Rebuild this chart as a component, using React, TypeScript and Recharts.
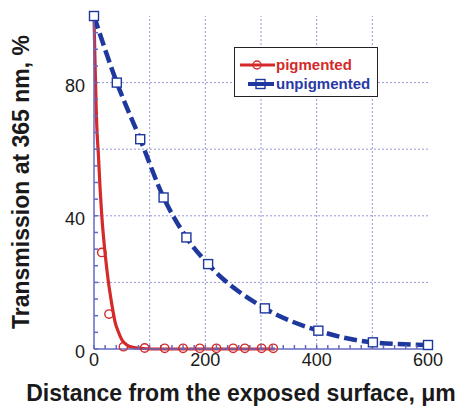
import { ComposedChart, Line, XAxis, YAxis, ReferenceLine } from 'recharts'

// pigmented: measured points (circles) and the fitted curve (solid red)
const pigmentedX = [0, 14, 27, 53, 91, 127, 160, 190, 220, 250, 271, 301, 322]
const pigmentedY = [100, 29, 10.5, 0.7, 0.3, 0.2, 0.2, 0.2, 0.2, 0.2, 0.2, 0.2, 0.2]
const pigmentedFitX = [0, 2, 4, 5, 8, 11, 14, 18, 22, 26, 30, 34, 38, 43, 50, 59, 70, 85, 100, 200, 325]
const pigmentedFitY = [100, 85, 72, 67, 58, 48, 40, 32, 25.5, 20, 15.5, 11.5, 8, 5.5, 2.8, 1.2, 0.5, 0.2, 0, 0, 0]

// unpigmented: squares joined by the dashed blue curve
const unpigmentedX = [0, 41, 83, 125, 166, 205, 307, 403, 501, 600]
const unpigmentedY = [100, 80, 63, 45.5, 33.5, 25.5, 12.2, 5.5, 2, 1.2]

const xGrid = [100, 200, 300, 400, 500]
const yGrid = [20, 40, 60, 80]
const xLabels = [0, 200, 400, 600]
const yLabels = [0, 40, 80]

const xMinor = Array.from({ length: 31 }, (_, i) => i * 20)
const yMinor = Array.from({ length: 21 }, (_, i) => i * 5)

const RED = '#d42a2a'
const BLUE = '#1f389e'
const FRAME = '#6468c0'
const GRID = '#9496d6'
const FONT = '"Liberation Sans", Arial, Helvetica, sans-serif'

const toRows = (xs: number[], ys: number[]) => xs.map((x, i) => ({ x, y: ys[i] }))

const pigmentedRows = toRows(pigmentedX, pigmentedY)
const pigmentedFitRows = toRows(pigmentedFitX, pigmentedFitY)
const unpigmentedRows = toRows(unpigmentedX, unpigmentedY)

const OpenCircle = (props: any) => {
  const { cx, cy } = props
  if (cx == null || cy == null) return null
  return <circle cx={cx} cy={cy} r={4.2} fill="none" stroke={RED} strokeWidth={1.4} />
}

const OpenSquare = (props: any) => {
  const { cx, cy } = props
  if (cx == null || cy == null) return null
  return <rect x={cx - 4.5} y={cy - 4.5} width={9} height={9} fill="white" stroke={BLUE} strokeWidth={1.4} />
}

const XTitle = () => (
  <text x={241} y={401} textAnchor="middle" fontFamily={FONT} fontWeight="bold" fontSize={23} fill="#1a1a1a">
    Distance from the exposed surface, μm
  </text>
)

const YTitle = () => (
  <text
    x={29}
    y={182}
    transform="rotate(-90, 29, 182)"
    textAnchor="middle"
    fontFamily={FONT}
    fontWeight="bold"
    fontSize={23}
    fill="#1a1a1a"
  >
    Transmission at 365 nm, %
  </text>
)

const tickStyle = { fontSize: 18, fill: '#1a1a1a', fontFamily: FONT }
const yTickStyle = { ...tickStyle, dy: 3 }

const LegendBox = () => (
  <div
    style={{
      position: 'absolute',
      left: 234,
      top: 47,
      width: 142,
      height: 48,
      border: '1px solid #222',
      background: 'white',
      fontFamily: FONT,
      fontWeight: 'bold',
      fontSize: 15,
      boxSizing: 'content-box',
    }}
  >
    <div style={{ position: 'absolute', left: 4, top: 7, display: 'flex', alignItems: 'center', height: 19 }}>
      <svg width={37} height={12}>
        <line x1={1} y1={6} x2={36} y2={6} stroke={RED} strokeWidth={3} />
        <circle cx={18} cy={6} r={4} fill="none" stroke={RED} strokeWidth={1.4} />
      </svg>
      <span style={{ color: RED }}>pigmented</span>
    </div>
    <div style={{ position: 'absolute', left: 12, top: 26, display: 'flex', alignItems: 'center', height: 19 }}>
      <svg width={29} height={12}>
        <line x1={1} y1={6} x2={27} y2={6} stroke={BLUE} strokeWidth={4} />
        <rect x={9} y={1.5} width={9} height={9} fill="none" stroke={BLUE} strokeWidth={1.4} />
      </svg>
      <span style={{ color: '#2a3aa5' }}>unpigmented</span>
    </div>
  </div>
)

const App = () => {
  return (
    <div style={{ position: 'absolute', left: 0, top: 0, width: 469, height: 409, background: 'white' }}>
      <ComposedChart width={469} height={409} margin={{ top: 16, right: 41, bottom: 0, left: 0 }}>
        <XAxis
          xAxisId="main"
          dataKey="x"
          type="number"
          domain={[0, 600]}
          ticks={xMinor}
          interval={0}
          tickSize={-4}
          tickMargin={8}
          tickFormatter={(v: number) => (xLabels.includes(v) ? String(v) : '')}
          tick={tickStyle}
          stroke={FRAME}
          strokeWidth={1.5}
          height={60}
          label={<XTitle />}
        />
        <XAxis
          xAxisId="top"
          orientation="top"
          type="number"
          domain={[0, 600]}
          ticks={xMinor}
          interval={0}
          tickSize={-4}
          tickFormatter={() => ''}
          stroke={FRAME}
          strokeWidth={1.5}
          height={0}
        />
        <YAxis
          yAxisId="main"
          dataKey="y"
          type="number"
          domain={[0, 100]}
          ticks={yMinor}
          interval={0}
          tickSize={-4}
          tickMargin={13}
          tickFormatter={(v: number) => (yLabels.includes(v) ? String(v) : '')}
          tick={yTickStyle}
          stroke={FRAME}
          strokeWidth={1.5}
          width={94}
          label={<YTitle />}
        />
        <YAxis
          yAxisId="right"
          orientation="right"
          type="number"
          domain={[0, 100]}
          ticks={yMinor}
          interval={0}
          tickSize={-4}
          tickFormatter={() => ''}
          stroke={FRAME}
          strokeWidth={1.5}
          width={0}
        />
        {xGrid.map((v) => (
          <ReferenceLine key={'gx' + v} xAxisId="main" yAxisId="main" x={v} stroke={GRID} strokeDasharray="2 2" />
        ))}
        {yGrid.map((v) => (
          <ReferenceLine key={'gy' + v} xAxisId="main" yAxisId="main" y={v} stroke={GRID} strokeDasharray="2 2" />
        ))}
        <Line
          xAxisId="main"
          yAxisId="main"
          data={pigmentedFitRows}
          dataKey="y"
          type="monotone"
          stroke={RED}
          strokeWidth={3.2}
          dot={false}
          activeDot={false}
          isAnimationActive={false}
        />
        <Line
          xAxisId="main"
          yAxisId="main"
          data={pigmentedRows}
          dataKey="y"
          stroke="none"
          dot={<OpenCircle />}
          activeDot={false}
          isAnimationActive={false}
        />
        <Line
          xAxisId="main"
          yAxisId="main"
          data={unpigmentedRows}
          dataKey="y"
          type="monotone"
          stroke={BLUE}
          strokeWidth={4.5}
          strokeDasharray="13 5"
          dot={<OpenSquare />}
          activeDot={false}
          isAnimationActive={false}
        />
      </ComposedChart>
      <LegendBox />
    </div>
  )
}

export default App
